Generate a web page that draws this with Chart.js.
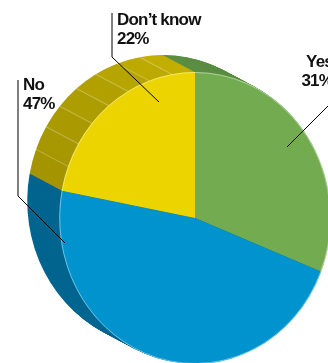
<!DOCTYPE html>
<html>
<head>
<meta charset="utf-8">
<script src="https://cdn.jsdelivr.net/npm/chart.js@4"></script>
<style>
  html, body { margin: 0; padding: 0; background: #fff; overflow: hidden; width: 328px; height: 363px; }
  #pie { position: absolute; left: 0; top: 0; }
</style>
</head>
<body>
<canvas id="pie" width="390" height="436"></canvas>
<script>
// answers, in drawing order (clockwise from 12 o'clock)
const categories = ['Yes', 'No', 'Don\u2019t know'];
const shares = [31, 47, 22];
const shareLabels = ['31%', '47%', '22%'];

const frontColours = ['#72ab50', '#0093cd', '#ecd400'];
// wall colours: lit (facing up) and shaded (facing left)
const sideLight = [[92, 142, 67], [0, 103, 145], [197, 178, 0]];
const sideDark = [[90, 140, 65], [0, 101, 143], [164, 148, 0]];
const seamed = [false, false, true];   // only the yellow wall shows its facets

// label text spot + leader line (vertical bar then slant into the slice)
const labelSpots = [
  { x: 333, y: 67, align: 'right', line: [[338, 55], [338, 96], [287, 147]] },
  { x: 23, y: 90, align: 'left', line: [[18, 80], [18, 196], [65, 243]] },
  { x: 117, y: 25, align: 'left', line: [[112, 13], [112, 57], [159, 102]] }
];

const squashX = 0.93;   // front face is a bit narrower than tall
const depthX = -32, depthY = -17;  // how far the back face sits
const facetStep = Math.PI / 18;    // 10 degree facets on the wall

function wallColour(k, ang) {
  const t = Math.abs(Math.sin(ang + Math.PI / 2));
  const c = sideLight[k].map((v, j) => Math.round(v + (sideDark[k][j] - v) * t));
  return 'rgb(' + c.join(',') + ')';
}

function facetsOf(a) {
  const out = [];
  const n = Math.max(1, Math.round((a.endAngle - a.startAngle) / facetStep));
  const w = (a.endAngle - a.startAngle) / n;
  for (let i = 0; i < n; i++) out.push([a.startAngle + i * w, a.startAngle + (i + 1) * w]);
  return out;
}

const solidPie = {
  id: 'solidPie',
  beforeDatasetsDraw(chart) {
    const ctx = chart.ctx;
    const arcs = chart.getDatasetMeta(0).data;
    const cx = arcs[0].x, cy = arcs[0].y;
    ctx.save();
    ctx.translate(cx, cy);
    ctx.scale(squashX, 1);
    ctx.translate(-cx, -cy);
    const ox = depthX / squashX, oy = depthY;
    // the wall: many shifted copies, far ones first
    const steps = 40;
    for (let i = steps; i >= 1; i--) {
      ctx.save();
      ctx.translate(ox * i / steps, oy * i / steps);
      arcs.forEach((a, k) => {
        facetsOf(a).forEach(([s, e]) => {
          ctx.beginPath();
          ctx.moveTo(a.x, a.y);
          ctx.arc(a.x, a.y, a.outerRadius, s, e);
          ctx.closePath();
          ctx.fillStyle = wallColour(k, (s + e) / 2);
          ctx.fill();
        });
      });
      ctx.restore();
    }
    // faint seams between facets
    ctx.strokeStyle = 'rgba(255,255,255,0.28)';
    ctx.lineWidth = 1 / squashX;
    arcs.forEach((a, k) => {
      if (!seamed[k]) return;
      facetsOf(a).slice(1).forEach(([s]) => {
        const px = a.x + a.outerRadius * Math.cos(s);
        const py = a.y + a.outerRadius * Math.sin(s);
        ctx.beginPath();
        ctx.moveTo(px, py);
        ctx.lineTo(px + ox, py + oy);
        ctx.stroke();
      });
    });
  },
  afterDatasetsDraw(chart) {
    const ctx = chart.ctx;
    const arcs = chart.getDatasetMeta(0).data;
    // thin light rim on the front face
    arcs.forEach(a => {
      ctx.beginPath();
      ctx.arc(a.x, a.y, a.outerRadius - 0.5, a.startAngle, a.endAngle);
      ctx.strokeStyle = 'rgba(255,255,255,0.45)';
      ctx.lineWidth = 1;
      ctx.stroke();
    });
    ctx.restore();
  },
  afterDraw(chart) {
    const ctx = chart.ctx;
    ctx.save();
    labelSpots.forEach((s, k) => {
      ctx.beginPath();
      ctx.moveTo(s.line[0][0], s.line[0][1]);
      for (let j = 1; j < s.line.length; j++) ctx.lineTo(s.line[j][0], s.line[j][1]);
      ctx.strokeStyle = '#000';
      ctx.lineWidth = 1;
      ctx.stroke();

      ctx.fillStyle = '#111';
      ctx.font = 'bold 17px "Liberation Sans", Arial, sans-serif';
      ctx.letterSpacing = '-0.8px';
      ctx.textAlign = s.align;
      ctx.textBaseline = 'alphabetic';
      ctx.fillText(categories[k], s.x, s.y);
      ctx.fillText(shareLabels[k], s.x, s.y + 18.5);
    });
    ctx.restore();
  }
};

new Chart(document.getElementById('pie'), {
  type: 'pie',
  data: {
    labels: categories,
    datasets: [{
      data: shares,
      backgroundColor: frontColours,
      borderWidth: 0,
      clip: false
    }]
  },
  options: {
    responsive: false,
    animation: false,
    events: [],
    layout: { padding: { left: 49, right: 49, top: 72, bottom: 72 } },
    plugins: {
      legend: { display: false },
      tooltip: { enabled: false }
    }
  },
  plugins: [solidPie]
});
</script>
</body>
</html>
